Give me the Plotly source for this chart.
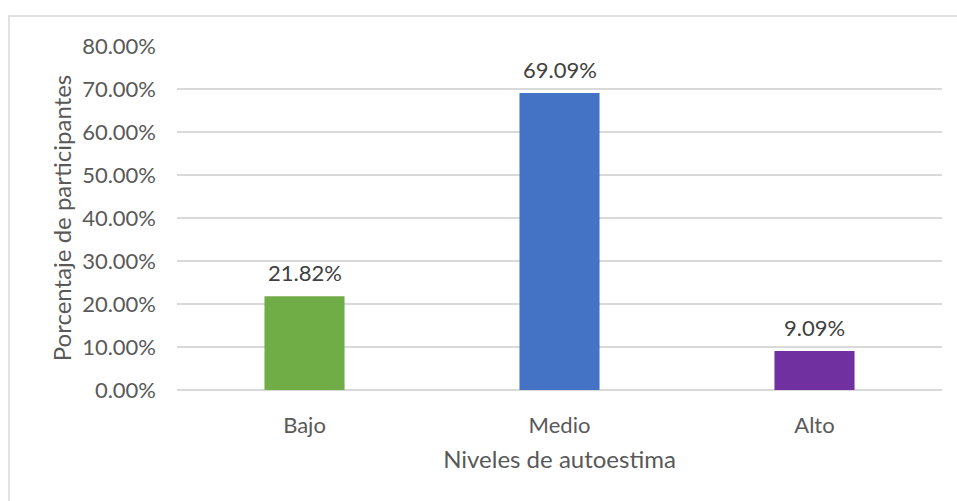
import plotly.graph_objects as go

categories = ["Bajo", "Medio", "Alto"]
values = [0.2182, 0.6909, 0.0909]
labels = ["21.82%", "69.09%", "9.09%"]
colors = ["#70AD47", "#4472C4", "#7030A0"]
y_ticks = [0, 0.1, 0.2, 0.3, 0.4, 0.5, 0.6, 0.7, 0.8]

FONT = "Lato"
TXT = "#595959"

fig = go.Figure(go.Bar(
    x=categories, y=values, marker_color=colors, marker_line_width=0,
    width=0.314,
))

annotations = [
    dict(x=c, y=v, text=t, xref="x", yref="y", showarrow=False,
         yanchor="bottom", yshift=8,
         font=dict(family=FONT, size=22, color="#404040"))
    for c, v, t in zip(categories, values, labels)
]

fig.update_layout(
    width=957, height=501,
    margin=dict(l=177, r=15, t=46, b=111),
    paper_bgcolor="white", plot_bgcolor="white",
    font=dict(family=FONT, size=22, color=TXT),
    showlegend=False,
    annotations=annotations,
    shapes=[dict(type="rect", xref="paper", yref="paper",
                 x0=-168/765, x1=1.2, y0=-0.5, y1=1 + 30/343.7,
                 line=dict(color="#D9D9D9", width=1.5), fillcolor="rgba(0,0,0,0)", layer="below")],
    xaxis=dict(
        showgrid=False, showline=False, zeroline=False,
        ticks="", ticklabelstandoff=20,
        tickfont=dict(family=FONT, size=22, color=TXT),
        title=dict(text="Niveles de autoestima", standoff=14,
                   font=dict(family=FONT, size=24, color=TXT)),
    ),
    yaxis=dict(
        range=[0, 0.8], tickvals=y_ticks, tickformat=".2%",
        showgrid=True, gridcolor="#D9D9D9", gridwidth=1.5,
        zeroline=True, zerolinecolor="#D9D9D9", zerolinewidth=1.5,
        showline=False, ticks="", ticklabelstandoff=20,
        tickfont=dict(family=FONT, size=22, color=TXT),
        title=dict(text="Porcentaje de participantes", standoff=3,
                   font=dict(family=FONT, size=24, color=TXT)),
    ),
)

fig.write_html("out.html", config={"displayModeBar": False},
               post_script="document.body.style.margin='0';document.body.style.overflow='hidden';")
